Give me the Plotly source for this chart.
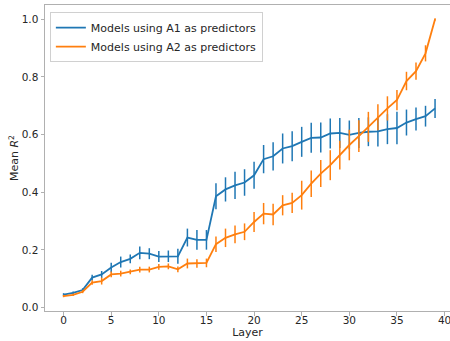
import plotly.graph_objects as go

# Layer index and mean R^2 per layer for each predictor set
layers = list(range(40))

a1_mean = [0.045, 0.051, 0.061, 0.104, 0.115, 0.139, 0.158, 0.169, 0.190, 0.187,
           0.177, 0.178, 0.178, 0.243, 0.235, 0.235, 0.386, 0.410, 0.424, 0.434,
           0.459, 0.515, 0.525, 0.552, 0.560, 0.575, 0.589, 0.590, 0.604, 0.606,
           0.599, 0.606, 0.610, 0.611, 0.619, 0.623, 0.642, 0.654, 0.664, 0.691]
a1_err = [0.005, 0.005, 0.006, 0.010, 0.012, 0.017, 0.019, 0.015, 0.022, 0.019,
          0.019, 0.020, 0.026, 0.031, 0.034, 0.034, 0.045, 0.042, 0.047, 0.046,
          0.047, 0.049, 0.049, 0.052, 0.052, 0.052, 0.052, 0.052, 0.052, 0.052,
          0.050, 0.052, 0.050, 0.052, 0.052, 0.056, 0.045, 0.040, 0.036, 0.033]

a2_mean = [0.040, 0.044, 0.055, 0.087, 0.092, 0.115, 0.118, 0.124, 0.132, 0.132,
           0.141, 0.143, 0.133, 0.153, 0.153, 0.155, 0.220, 0.242, 0.254, 0.263,
           0.297, 0.326, 0.323, 0.355, 0.363, 0.390, 0.430, 0.465, 0.494, 0.529,
           0.564, 0.595, 0.627, 0.660, 0.691, 0.720, 0.786, 0.820, 0.882, 1.000]
a2_err = [0.004, 0.004, 0.005, 0.008, 0.012, 0.010, 0.010, 0.008, 0.010, 0.010,
          0.010, 0.010, 0.010, 0.017, 0.015, 0.015, 0.027, 0.032, 0.031, 0.029,
          0.035, 0.037, 0.037, 0.035, 0.035, 0.050, 0.046, 0.047, 0.052, 0.050,
          0.053, 0.055, 0.052, 0.045, 0.042, 0.035, 0.032, 0.030, 0.028, 0.004]

x_ticks = [0, 5, 10, 15, 20, 25, 30, 35, 40]
y_ticks = [0.0, 0.2, 0.4, 0.6, 0.8, 1.0]
y_tick_text = ["0.0", "0.2", "0.4", "0.6", "0.8", "1.0"]

BLUE = "#1f77b4"
ORANGE = "#ff7f0e"
FONT = "DejaVu Sans"
TEXT = "#262626"

fig = go.Figure()
for name, mean, err, color in [
    ("Models using A1 as predictors", a1_mean, a1_err, BLUE),
    ("Models using A2 as predictors", a2_mean, a2_err, ORANGE),
]:
    fig.add_trace(go.Scatter(
        x=layers, y=mean, name=name, mode="lines",
        line=dict(color=color, width=1.8),
        error_y=dict(type="data", array=err, visible=True,
                     color=color, thickness=1.5, width=0),
    ))

axis_common = dict(
    showgrid=False, zeroline=False, showline=True,
    linecolor="#b0b0b0", linewidth=1,
    ticks="outside", ticklen=3.5, tickwidth=1, tickcolor="#b0b0b0",
    tickfont=dict(family=FONT, size=10.5, color=TEXT),
    ticklabeloverflow="allow",
)

fig.update_layout(
    width=450, height=341,
    margin=dict(l=45, r=0, t=5, b=30),
    paper_bgcolor="white", plot_bgcolor="white",
    font=dict(family=FONT, size=11, color=TEXT),
    xaxis=dict(
        range=[-1.95, 40.57], tickvals=x_ticks, mirror=True,
        ticklabelstandoff=-4,
        title=dict(text="Layer", font=dict(family=FONT, size=11, color=TEXT), standoff=0),
        **axis_common,
    ),
    yaxis=dict(
        range=[-0.0118, 1.0497], tickvals=y_ticks, ticktext=y_tick_text,
        title=dict(text="Mean <i>R</i><sup>2</sup>", font=dict(family=FONT, size=11, color=TEXT), standoff=0),
        **axis_common,
    ),
    legend=dict(
        x=0.012, y=0.977, xanchor="left", yanchor="top",
        bgcolor="rgba(255,255,255,0.8)", bordercolor="#d0d0d0", borderwidth=1,
        font=dict(family=FONT, size=11, color=TEXT),
        itemwidth=30, tracegroupgap=0,
    ),
    showlegend=True,
)

fig.write_html("out.html")
